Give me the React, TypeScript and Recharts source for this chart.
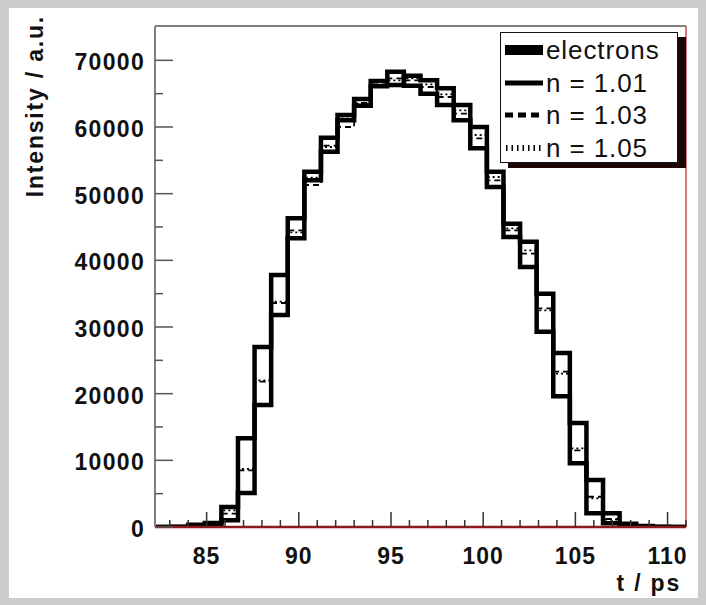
import React from 'react';
import { LineChart, Line, XAxis, YAxis, ReferenceLine } from 'recharts';

// Histogram binning (32 bins)
const binLow = 82.2;
const binWidth = 0.9;
const binCount = 32;
const xMax = 111;
const yMax = 75150;

// Bin contents
const electrons = [0, 50, 350, 600, 3000, 13300, 27000, 37800, 46300, 53300, 58400, 61800, 64200, 66900, 68300, 66200, 65000, 63300, 61000, 56800, 51000, 43500, 39000, 29300, 19600, 9550, 2050, 550, 150, 50, 0, 0];
const n101 = [0, 0, 100, 250, 1000, 5100, 18300, 31800, 43300, 52000, 56300, 61000, 63200, 66100, 66300, 67700, 67000, 65800, 63300, 60000, 53300, 45500, 42800, 35000, 26100, 15600, 7050, 2050, 500, 150, 50, 0];
const n103 = [0, 20, 200, 400, 2000, 8500, 21800, 33600, 44500, 51300, 57200, 60000, 63600, 66400, 67300, 67000, 66000, 64500, 62000, 58300, 52000, 44500, 41000, 32800, 23300, 11500, 4540, 1200, 300, 100, 20, 0];
const n105 = [0, 30, 300, 500, 2500, 8700, 22000, 33800, 44200, 52400, 57000, 61300, 63500, 66300, 67000, 67300, 66400, 64900, 62500, 58800, 52500, 44800, 41500, 32500, 23000, 11800, 4300, 1100, 250, 80, 10, 0];

const xTicks = [83, 84, 85, 86, 87, 88, 89, 90, 91, 92, 93, 94, 95, 96, 97, 98, 99, 100, 101, 102, 103, 104, 105, 106, 107, 108, 109, 110, 111];
const yTicks = [0, 5000, 10000, 15000, 20000, 25000, 30000, 35000, 40000, 45000, 50000, 55000, 60000, 65000, 70000];

const legendItems = [
  { key: 'electrons', label: 'electrons', kind: 'fill' },
  { key: 'n101', label: 'n = 1.01', kind: 'solid' },
  { key: 'n103', label: 'n = 1.03', kind: 'dashed' },
  { key: 'n105', label: 'n = 1.05', kind: 'dotted' },
];

const rows = Array.from({ length: binCount + 1 }, (_, k) => {
  const i = Math.min(k, binCount - 1);
  return {
    t: k === binCount ? xMax : Number((binLow + k * binWidth).toFixed(3)),
    electrons: electrons[i],
    n101: n101[i],
    n103: n103[i],
    n105: n105[i],
  };
});

const FONT = '"Liberation Sans", Arial, Helvetica, sans-serif';

const XTick = (props: any) => {
  const { x, y, payload } = props;
  const v = payload.value;
  const major = v % 5 === 0;
  return (
    <g>
      <line x1={x} x2={x} y1={y} y2={y - (major ? 15 : 7)} stroke="#333" strokeWidth={1.5} />
      {major && (
        <text x={x} y={y + 37} textAnchor="middle" fontFamily={FONT} fontWeight="bold" fontSize={23} letterSpacing={1} fill="#111">
          {v}
        </text>
      )}
    </g>
  );
};

const YTick = (props: any) => {
  const { x, y, payload } = props;
  const v = payload.value;
  const major = v % 10000 === 0;
  return (
    <g>
      <line x1={x} x2={x + (major ? 18 : 8)} y1={y} y2={y} stroke="#555" strokeWidth={1.5} />
      {major && (
        <text x={x - 10} y={y + 10} textAnchor="end" fontFamily={FONT} fontWeight="bold" fontSize={23} letterSpacing={1.3} fill="#111">
          {v}
        </text>
      )}
    </g>
  );
};

const Swatch = ({ kind }: { kind: string }) => (
  <svg width={40} height={14} style={{ display: 'block' }}>
    {kind === 'fill' && <rect x={0} y={2} width={38} height={10} fill="#000" />}
    {kind === 'solid' && <line x1={0} x2={38} y1={7} y2={7} stroke="#000" strokeWidth={5} />}
    {kind === 'dashed' && <line x1={0} x2={38} y1={7} y2={7} stroke="#000" strokeWidth={5} strokeDasharray="8 5" />}
    {kind === 'dotted' && <line x1={1} x2={38} y1={7} y2={7} stroke="#000" strokeWidth={6} strokeDasharray="1.5 4" />}
  </svg>
);

export default function App() {
  return (
    <div style={{ position: 'absolute', left: 0, top: 0, width: 706, height: 605, background: '#cdcdcd', overflow: 'hidden' }}>
      <div style={{ position: 'absolute', left: 9, top: 8, width: 689, height: 590, background: '#ffffff' }} />
      <div style={{ position: 'absolute', left: 0, top: 0 }}>
        <LineChart width={706} height={605} data={rows} margin={{ top: 26, right: 20, bottom: 0, left: 0 }}>
          <XAxis
            dataKey="t"
            type="number"
            domain={[binLow, xMax]}
            allowDataOverflow
            ticks={xTicks}
            interval={0}
            tickLine={false}
            tickSize={0}
            tickMargin={0}
            height={78}
            axisLine={{ stroke: '#8b1a1a', strokeWidth: 2.5 }}
            tick={(p: any) => <XTick {...p} />}
            label={{
              content: () => (
                <text x={681} y={591} textAnchor="end" fontFamily={FONT} fontWeight="bold" fontSize={23} letterSpacing={1.8} fill="#111">
                  t / ps
                </text>
              ),
            }}
          />
          <YAxis
            type="number"
            domain={[0, yMax]}
            allowDataOverflow
            ticks={yTicks}
            interval={0}
            tickLine={false}
            tickSize={0}
            tickMargin={0}
            width={155}
            axisLine={{ stroke: '#808080', strokeWidth: 2 }}
            tick={(p: any) => <YTick {...p} />}
            label={{
              content: () => (
                <text transform="translate(43,15) rotate(-90)" textAnchor="end" fontFamily={FONT} fontWeight="bold" fontSize={23} letterSpacing={1.8} fill="#111">
                  Intensity / a.u.
                </text>
              ),
            }}
          />
          <ReferenceLine y={yMax} stroke="#808080" strokeWidth={2} ifOverflow="visible" />
          <ReferenceLine x={xMax} stroke="#c05050" strokeWidth={1.5} ifOverflow="visible" />
          <Line dataKey="n103" type="stepAfter" stroke="#000" strokeWidth={1.8} strokeDasharray="6 4" dot={false} isAnimationActive={false} />
          <Line dataKey="n105" type="stepAfter" stroke="#000" strokeWidth={1.8} strokeDasharray="2 3" dot={false} isAnimationActive={false} />
          <Line dataKey="electrons" type="stepAfter" stroke="#000" strokeWidth={4.5} dot={false} isAnimationActive={false} strokeLinejoin="miter" />
          <Line dataKey="n101" type="stepAfter" stroke="#000" strokeWidth={4.5} dot={false} isAnimationActive={false} strokeLinejoin="miter" />
        </LineChart>
      </div>
      <div
        style={{
          position: 'absolute',
          left: 500,
          top: 32,
          width: 176,
          height: 129,
          border: '1.5px solid #111',
          background: '#fff',
          boxShadow: '8px 5px 0 #1c0606',
          fontFamily: FONT,
          fontSize: 26,
          letterSpacing: 0.9,
          color: '#111',
        }}
      >
        {legendItems.map((it, i) => (
          <div key={it.key} style={{ position: 'absolute', left: 4, top: 2 + i * 32.5, height: 30, display: 'flex', alignItems: 'center' }}>
            <Swatch kind={it.kind} />
            <span style={{ marginLeft: 1, lineHeight: '30px', whiteSpace: 'nowrap' }}>{it.label}</span>
          </div>
        ))}
      </div>
    </div>
  );
}
